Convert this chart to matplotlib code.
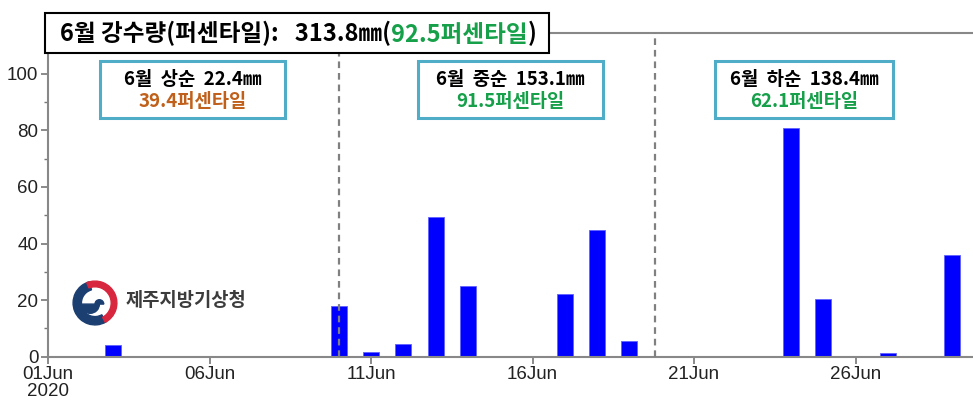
import matplotlib
matplotlib.use('Agg')
import matplotlib.pyplot as plt
from matplotlib.patches import Rectangle, Wedge
from matplotlib.ticker import MultipleLocator

# ---------------- data ----------------
days = [1, 3, 10, 11, 12, 13, 14, 17, 18, 19, 24, 25, 27, 29]
rain = [0.2, 4.3, 17.9, 1.8, 4.6, 49.2, 25.1, 22.0, 44.8, 5.6, 80.8, 20.4, 1.3, 35.9]
tick_days = [1, 6, 11, 16, 21, 26]
tick_labels = ['01Jun\n2020', '06Jun', '11Jun', '16Jun', '21Jun', '26Jun']
y_ticks = [0, 20, 40, 60, 80, 100]
dekad_bounds = [10, 19.8]

GREEN = '#17A04A'
BROWN = '#C0601A'
title_parts = [("6월 강수량(퍼센타일):   313.8㎜(", 'black'), ("92.5퍼센타일", GREEN), (")", 'black')]
box_line1 = ["6월  상순  22.4㎜", "6월  중순  153.1㎜", "6월  하순  138.4㎜"]
box_line2 = ["39.4퍼센타일", "91.5퍼센타일", "62.1퍼센타일"]
box_colors = [BROWN, GREEN, GREEN]
logo_text = "제주지방기상청"

CJK = ['Noto Sans CJK KR', 'DejaVu Sans']
W, H = 973, 400

fig = plt.figure(figsize=(W / 100, H / 100), dpi=100)
plt.rcParams['font.family'] = ['Liberation Sans', 'DejaVu Sans']

def fx(px):
    return px / W

def fy(py):
    return 1 - py / H

ax = fig.add_axes([fx(48), fy(356.7), 1 - fx(48), (356.7 - 33.3) / H])
ax.bar(days, rain, width=0.5, color='#0000FF', edgecolor='#6060FF', linewidth=0.6, zorder=2)
for b in dekad_bounds:
    ax.axvline(b, color='#808080', lw=1.6, ls=(0, (3, 2.2)), zorder=3)

ax.set_xlim(1, 1 + (W - 48) / 32.3)
ax.set_ylim(0, 114.3)
ax.set_xticks(tick_days, tick_labels)
for lbl in ax.get_xticklabels():
    lbl.set_linespacing(1.0)
ax.set_yticks(y_ticks)
ax.yaxis.set_minor_locator(MultipleLocator(10))
for s in ['left', 'bottom', 'top']:
    ax.spines[s].set_color('#888888')
    ax.spines[s].set_linewidth(1.5)
ax.spines['right'].set_visible(False)
ax.tick_params(axis='both', which='major', direction='out', length=5, width=1.2,
               color='#777777', labelsize=13.5, labelcolor='#222222', pad=2)
ax.tick_params(axis='y', which='minor', direction='out', length=3, width=1.0, color='#777777')
ax.tick_params(axis='x', which='minor', length=0)

# --------------- text boxes ---------------
def colored_line(xc, yc, parts, size, weight='bold'):
    fig.canvas.draw()
    r = fig.canvas.get_renderer()
    texts = []
    widths = []
    for s, c in parts:
        t = fig.text(0, 0, s, color=c, fontsize=size, fontweight=weight, family=CJK,
                     ha='left', va='baseline', zorder=10)
        widths.append(t.get_window_extent(r).width)
        texts.append(t)
    total = sum(widths)
    x = xc - total / 2
    base = yc + size * 100 / 72 * 0.36
    for t, w in zip(texts, widths):
        t.set_position((fx(x), fy(base)))
        x += w

# title box
fig.add_artist(Rectangle((fx(45), fy(53)), fx(549) - fx(45), (53 - 13) / H,
                         transform=fig.transFigure, facecolor='white', edgecolor='black',
                         lw=1.5, zorder=9))
colored_line(298, 33, title_parts, 17)

box_px = [(100, 61, 285, 118), (418, 61, 603, 118), (715, 61, 893, 118)]
for (x0, y0, x1, y1), l1, l2, c in zip(box_px, box_line1, box_line2, box_colors):
    fig.add_artist(Rectangle((fx(x0), fy(y1)), fx(x1) - fx(x0), (y1 - y0) / H,
                             transform=fig.transFigure, facecolor='white', edgecolor='#4FADC8',
                             lw=2.2, zorder=9))
    xc = (x0 + x1) / 2
    colored_line(xc, 78, [(l1, 'black')], 13.5)
    colored_line(xc, 100, [(l2, c)], 13.5)

# --------------- logo ---------------
lax = fig.add_axes([fx(72), fy(326), fx(118) - fx(72), (326 - 280) / H])
lax.set_xlim(-1.05, 1.05)
lax.set_ylim(-1.05, 1.05)
lax.set_aspect('equal')
lax.axis('off')
NAVY = '#1C3F72'
RED = '#D7263D'
lax.add_patch(Wedge((0, 0), 1.0, 105, 300, width=0.38, color=NAVY))
lax.add_patch(Wedge((0, 0), 1.0, -62, 112, width=0.26, color=RED))
lax.add_patch(Wedge((-0.22, -0.05), 0.42, 180, 360, color=NAVY))
lax.add_patch(Wedge((0.2, -0.05), 0.2, 0, 180, color=NAVY))
fig.text(fx(126), fy(301), logo_text, fontsize=13.5, family=CJK, fontweight='bold',
         color='#3C3C3C', ha='left', va='center')

fig.savefig('out.png', dpi=100)
